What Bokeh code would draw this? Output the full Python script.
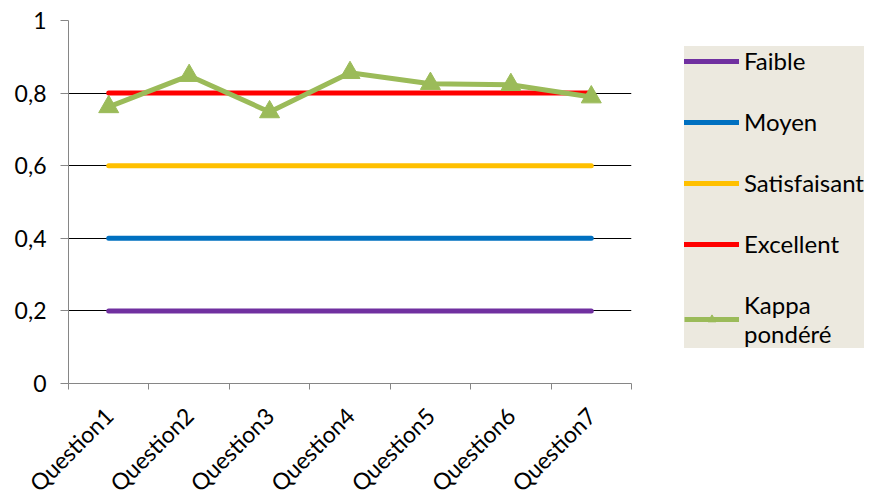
import math
from bokeh.plotting import figure
from bokeh.models import (FixedTicker, CustomJSTickFormatter, Legend, LegendItem,
                          ColumnDataSource, Range1d)
from bokeh.embed import file_html
from bokeh.resources import INLINE

categories = ["Question1", "Question2", "Question3", "Question4", "Question5", "Question6", "Question7"]
faible = [0.2] * 7
moyen = [0.4] * 7
satisfaisant = [0.6] * 7
excellent = [0.8] * 7
kappa = [0.762, 0.848, 0.748, 0.856, 0.826, 0.823, 0.789]
y_ticks = [0, 0.2, 0.4, 0.6, 0.8, 1]

xs = list(range(1, len(categories) + 1))
FONT = "Lato"
FS = "23px"

p = figure(frame_width=563, frame_height=363, output_backend="svg", toolbar_location=None,
           x_range=Range1d(0.5, len(categories) + 0.5), y_range=Range1d(0, 1),
           min_border_left=68, min_border_right=0, min_border_top=20, min_border_bottom=0)
p.outline_line_color = None
p.background_fill_color = "white"
p.border_fill_color = "white"

# axes
p.xaxis.ticker = FixedTicker(ticks=xs, minor_ticks=[x - 0.5 for x in xs] + [xs[-1] + 0.5])
p.xaxis.major_label_overrides = {x: c for x, c in zip(xs, categories)}
p.xaxis.major_tick_line_color = None
p.xaxis.minor_tick_line_color = "#868686"
p.xaxis.minor_tick_out = 6
p.xaxis.minor_tick_in = 0
p.xaxis.axis_line_color = "#868686"
p.xaxis.major_label_orientation = math.pi / 4
p.xaxis.major_label_text_font = FONT
p.xaxis.major_label_text_font_size = FS
p.xaxis.major_label_text_color = "black"
p.xaxis.major_label_standoff = 22

p.yaxis.ticker = FixedTicker(ticks=y_ticks)
p.yaxis.formatter = CustomJSTickFormatter(code="return (Math.round(tick*10)/10).toString().replace('.', ',');")
p.yaxis.axis_line_color = "#868686"
p.yaxis.major_tick_line_color = "#868686"
p.yaxis.major_tick_out = 8
p.yaxis.major_tick_in = 0
p.yaxis.minor_tick_line_color = None
p.yaxis.major_label_text_font = FONT
p.yaxis.major_label_text_font_size = FS
p.yaxis.major_label_text_color = "black"
p.yaxis.major_label_standoff = 14

p.xgrid.grid_line_color = None
p.ygrid.ticker = FixedTicker(ticks=[t for t in y_ticks if t > 0])
p.ygrid.grid_line_color = "black"
p.ygrid.grid_line_width = 1

src = ColumnDataSource(dict(x=xs, faible=faible, moyen=moyen, satisfaisant=satisfaisant,
                            excellent=excellent, kappa=kappa))

lw = 5
r1 = p.line("x", "faible", source=src, line_color="#7030A0", line_width=lw, line_cap="round")
r2 = p.line("x", "moyen", source=src, line_color="#0070C0", line_width=lw, line_cap="round")
r3 = p.line("x", "satisfaisant", source=src, line_color="#FFC000", line_width=lw, line_cap="round")
r4 = p.line("x", "excellent", source=src, line_color="#FF0000", line_width=lw, line_cap="round")
r5 = p.line("x", "kappa", source=src, line_color="#9BBB59", line_width=lw)
r6 = p.scatter("x", "kappa", source=src, marker="triangle", size=20,
               fill_color="#9BBB59", line_color="#9BBB59")

legend = Legend(items=[
    LegendItem(label="Faible", renderers=[r1]),
    LegendItem(label="Moyen", renderers=[r2]),
    LegendItem(label="Satisfaisant", renderers=[r3]),
    LegendItem(label="Excellent", renderers=[r4]),
    LegendItem(label="Kappa\npondéré", renderers=[r5, r6]),
], location=(53, 35))
legend.background_fill_color = "#ECE9DF"
legend.background_fill_alpha = 1
legend.border_line_color = None
legend.label_text_font = FONT
legend.label_text_font_size = "24px"
legend.label_text_color = "black"
legend.glyph_width = 55
legend.glyph_height = 20
legend.label_height = 20
legend.label_standoff = 5
legend.spacing = 32
legend.padding = 4
legend.margin = 0
p.add_layout(legend, "right")

open("out.html", "w").write(file_html(p, INLINE))
